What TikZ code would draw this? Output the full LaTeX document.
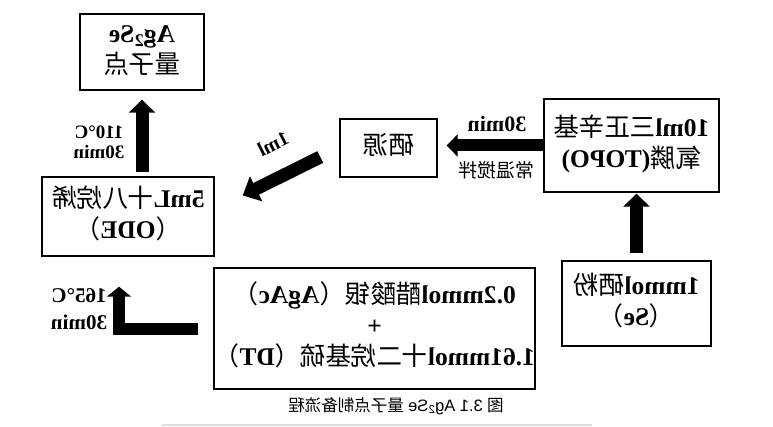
\documentclass[tikz,border=0pt]{standalone}
\usepackage{fontspec}
\usepackage{graphicx}
\setmainfont{Liberation Serif}
\newfontfamily\cjk{Noto Sans CJK SC}
\newfontfamily\capsans{Liberation Sans}
\usetikzlibrary{arrows.meta,calc}
\newcommand\zh[1]{{\cjk\mdseries #1}}
\newcommand\mir[1]{\reflectbox{\begin{tabular}{@{}c@{}}#1\end{tabular}}}
\tikzset{
  box/.style={draw, line width=1.4pt, inner sep=0pt,
    font=\bfseries\fontsize{25.5}{31}\selectfont},
  lbl/.style={inner sep=0pt},
  blk/.style={line width=13pt, -{Triangle[width=26pt,length=13pt]}}
}
\begin{document}
\begin{tikzpicture}[x=1pt,y=-1pt]
\useasboundingbox (0,0) rectangle (773,427);
% boxes (text mirrored as in the reference)
\node[box, minimum width=124pt, minimum height=76pt] (ag) at (142,52) {\mir{Ag\textsubscript{2}Se\\\zh{量子点}}};
\node[box, minimum width=172pt, minimum height=79pt] (ode) at (128,216.5) {\mir{5mL\zh{十八烷烯}\\\zh{（}ODE\zh{）}}};
\node[box, minimum width=97pt, minimum height=58pt] (src) at (388.5,148) {\mir{\zh{硒源}}};
\node[box, minimum width=175pt, minimum height=93pt] (topo) at (631.5,145.5) {\mir{10ml\zh{三正辛基}\\\zh{氧膦}(TOPO)}};
\node[box, minimum width=149pt, minimum height=85pt] (se) at (636.5,303.5) {\mir{1mmol\zh{硒粉}\\\zh{（}Se\zh{）}}};
\node[box, minimum width=321pt, minimum height=121pt] (agac) at (374.5,328.5) {\mir{0.2mmol\zh{醋酸银（}AgAc\zh{）}\\+\\1.61mmol\zh{十二烷基硫（}DT\zh{）}}};
% arrows
\draw[blk, shorten <=4pt, shorten >=9pt] (ode.north -| ag.south) -- (ag.south);
\draw[blk, shorten <=7pt, shorten >=1pt] (se.north) -- (se.north |- topo.south);
\draw[line width=12pt, -{Triangle[width=22pt,length=11pt]}, shorten >=9pt] (topo.west) -- (src.east |- topo.west);
\draw[line width=13pt, -{Triangle[width=27pt,length=15pt]}] ($(src.west)+(-19,9)$) -- ($(ode.east)+(28,-21)$);
\draw[line width=12pt, line join=miter, -{Triangle[width=24pt,length=10pt]}] ($(agac.west)+(-15,0)$) -| ($(ode.south)+(-9,30)$);
% labels
\node[lbl, font=\bfseries\fontsize{19}{20}\selectfont] (t1) at (99,145) {\mir{110°C\\30min}};
\node[lbl, font=\bfseries\fontsize{22}{24}\selectfont] (t2) at (497,127) {\mir{30min}};
\node[lbl, font=\fontsize{19}{20}\selectfont] (t3) at (496,172) {\mir{\zh{常温搅拌}}};
\node[lbl, rotate=27, font=\bfseries\fontsize{20}{22}\selectfont] (t4) at (273,144) {\reflectbox{1ml}};
\node[lbl, font=\bfseries\fontsize{21}{27}\selectfont] (t5) at (79,311) {\mir{165°C\\30min}};
\node[lbl, font=\fontsize{16.5}{18}\selectfont] (cap) at (396,407) {\mir{\zh{图} {\capsans 3.1 Ag\textsubscript{2}Se} \zh{量子点制备流程}}};
\draw[gray!25, line width=2pt] (162,425) -- (592,425);
\end{tikzpicture}
\end{document}
